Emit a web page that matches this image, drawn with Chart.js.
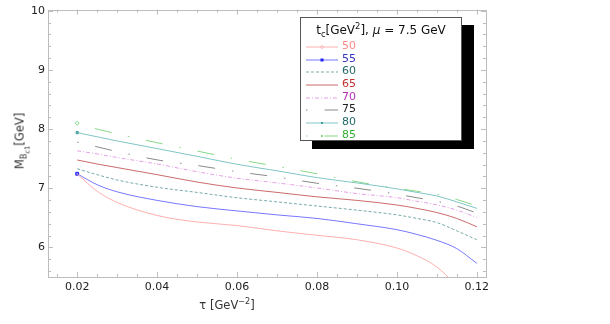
<!DOCTYPE html>
<html>
<head>
<meta charset="utf-8">
<script src="https://cdn.jsdelivr.net/npm/chart.js@4/dist/chart.umd.min.js"></script>
<style>
  body { margin: 0; background: #fff; }
  #wrap { position: relative; width: 610px; height: 324px; font-family: "DejaVu Sans", sans-serif; }
  .lab { position: absolute; white-space: nowrap; color: #333; font-weight: normal; }
  sub, sup { font-size: 70%; line-height: 0; }
  sub sub { font-size: 85%; }
  #legend { position: absolute; left: 300px; top: 17px; width: 162px; height: 124px;
            border: 1px solid #555; background: #fff; box-shadow: 12px 8px 0 0 #000; box-sizing: border-box; }
  #legTitle { position: absolute; left: 0; width: 100%; top: 5px; text-align: center; font-size: 12px; color: #111; }
  .row { position: absolute; left: 5px; height: 12px; font-size: 11px; }
  .row svg { position: absolute; left: 0; top: 2px; }
  .row span { position: absolute; left: 36px; top: -2px; }
</style>
</head>
<body>
<div id="wrap">
  <canvas id="c" width="610" height="324"></canvas>
  <div class="lab" id="ytitle" style="left:20px; top:141px; font-size:11.5px; transform:translate(-50%,-50%) rotate(-90deg);">M<sub>B<sub>c1</sub></sub>[GeV]</div>
  <div class="lab" style="left:227px; top:305px; font-size:11.5px; transform:translate(-50%,-50%);">τ [GeV<sup>−2</sup>]</div>
  <div id="legend"><div id="legTitle">t<sub>c</sub>[GeV<sup>2</sup>], <i>μ</i> = 7.5 GeV</div></div>
</div>
<script>
// tau grid (GeV^-2) and mass curves M_Bc1 (GeV) for each threshold t_c
const tau = [0.02, 0.025, 0.03, 0.04, 0.05, 0.06, 0.07, 0.08, 0.09, 0.10, 0.105, 0.11, 0.115, 0.12];
const tcLabels = ["50", "55", "60", "65", "70", "75", "80", "85"];
const m50 = [7.24, 6.95, 6.76, 6.54, 6.43, 6.37, 6.28, 6.205, 6.13, 5.99, 5.86, 5.67, 5.35, 5.00];
const m55 = [7.245, 7.06, 6.94, 6.795, 6.69, 6.617, 6.55, 6.49, 6.40, 6.30, 6.22, 6.12, 5.98, 5.73];
const m60 = [7.33, 7.23, 7.14, 7.017, 6.93, 6.84, 6.77, 6.70, 6.63, 6.55, 6.49, 6.42, 6.28, 6.13];
const m65 = [7.478, 7.41, 7.35, 7.23, 7.105, 7.005, 6.93, 6.855, 6.795, 6.717, 6.66, 6.59, 6.49, 6.35];
const m70 = [7.633, 7.58, 7.52, 7.41, 7.28, 7.17, 7.09, 7.005, 6.91, 6.84, 6.78, 6.72, 6.63, 6.505];
const m75 = [7.78, 7.70, 7.62, 7.48, 7.385, 7.28, 7.19, 7.085, 7.00, 6.90, 6.84, 6.78, 6.70, 6.58];
const m80 = [7.94, 7.87, 7.80, 7.67, 7.54, 7.405, 7.295, 7.18, 7.09, 6.99, 6.93, 6.87, 6.77, 6.66];
const m85 = [8.10, 8.00, 7.92, 7.77, 7.63, 7.49, 7.37, 7.245, 7.11, 7.00, 6.95, 6.90, 6.81, 6.70];
const xTicks = [0.02, 0.04, 0.06, 0.08, 0.10, 0.12];
const yTicks = [6, 7, 8, 9, 10];

const series = [m50, m55, m60, m65, m70, m75, m80, m85];
const lineColors = ["#ffb0b0", "#7777ff", "#78aaaa", "#cc6b6b", "#e6a0e6", "#8a8a8a", "#80c6c6", "#86d886"];
const textColors = ["#ff8a8a", "#3535c0", "#246868", "#c23030", "#b232b2", "#222222", "#246868", "#32b032"];
const dashes = [[], [], [3, 2], [], [4, 2, 1, 2], [1.5, 17, 17, 17], [], [1.5, 17, 17, 17]];
const markers = [null, "rect", null, null, null, null, "rect", "rectRot"];
const FONT = "DejaVu Sans";

const datasets = series.map((vals, k) => ({
  label: tcLabels[k],
  data: tau.map((t, i) => ({ x: t, y: vals[i] })),
  borderColor: lineColors[k],
  borderWidth: 1,
  borderDash: dashes[k],
  cubicInterpolationMode: "monotone",
  pointStyle: markers[k] || "circle",
  pointRadius: tau.map((t, i) => (i === 0 && markers[k]) ? (k === 6 ? 1.5 : 2) : 0),
  pointBackgroundColor: k === 7 ? "#fff" : lineColors[k],
  pointBorderColor: k === 1 ? "#2222ee" : (k === 6 ? "#3a9a9a" : lineColors[k]),
  pointBorderWidth: 1
}));

// Mathematica-like frame with inward ticks
const framePlugin = {
  id: "frame",
  beforeDatasetsDraw(chart) {
    const { ctx, chartArea: a, scales: { x, y } } = chart;
    ctx.save();
    ctx.strokeStyle = "#bdbdbd";
    ctx.lineWidth = 1;
    ctx.strokeRect(Math.round(a.left) + 0.5, Math.round(a.top) + 0.5, Math.round(a.right - a.left), Math.round(a.bottom - a.top));
    ctx.beginPath();
    for (let i = 3; i <= 24; i++) {
      const px = Math.round(x.getPixelForValue(i * 0.005)) + 0.5;
      const len = i % 4 === 0 ? 5 : 3;
      ctx.moveTo(px, a.bottom); ctx.lineTo(px, a.bottom - len);
      ctx.moveTo(px, a.top); ctx.lineTo(px, a.top + len);
    }
    for (let j = 28; j <= 50; j++) {
      const py = Math.round(y.getPixelForValue(j * 0.2)) + 0.5;
      const len = j % 5 === 0 ? 5 : 3;
      ctx.moveTo(a.left, py); ctx.lineTo(a.left + len, py);
      ctx.moveTo(a.right, py); ctx.lineTo(a.right - len, py);
    }
    ctx.stroke();
    ctx.restore();
  }
};

new Chart(document.getElementById("c"), {
  type: "line",
  data: { datasets },
  options: {
    responsive: false,
    animation: false,
    layout: { padding: { top: 6, right: 124, left: 0, bottom: 0 } },
    plugins: { legend: { display: false }, tooltip: { enabled: false } },
    scales: {
      x: {
        type: "linear", min: 0.0127, max: 0.1223,
        grid: { display: false, drawTicks: false }, border: { display: false },
        afterBuildTicks: s => { s.ticks = xTicks.map(v => ({ value: v })); },
        afterFit: s => { s.height = 47; },
        ticks: { padding: 4, color: "#222", maxRotation: 0, autoSkip: false,
                 font: { family: FONT, size: 11 }, callback: v => Number(v).toFixed(2) }
      },
      y: {
        type: "linear", min: 5.5, max: 10.02,
        grid: { display: false, drawTicks: false }, border: { display: false },
        afterBuildTicks: s => { s.ticks = yTicks.map(v => ({ value: v })); },
        afterFit: s => { s.width = 48; },
        ticks: { padding: 3, color: "#222", font: { family: FONT, size: 11 }, callback: v => String(v) }
      }
    }
  },
  plugins: [framePlugin]
});

// legend rows
const legend = document.getElementById("legend");
tcLabels.forEach((lab, k) => {
  const row = document.createElement("div");
  row.className = "row";
  row.style.top = (23 + k * 12.65) + "px";
  const dash = dashes[k].length ? `stroke-dasharray="${dashes[k].join(" ")}"` : "";
  let mark = "";
  if (k === 0) mark = `<circle cx="16" cy="4" r="1.3" fill="#fff" stroke="${lineColors[0]}"/>`;
  if (k === 1) mark = `<rect x="14.5" y="2.5" width="3" height="3" fill="#2222ee"/>`;
  if (k === 6) mark = `<rect x="15" y="3" width="2" height="2" fill="#3a9a9a"/>`;
  if (k === 7) mark = `<rect x="15" y="3" width="2" height="2" fill="${lineColors[7]}"/>`;
  row.innerHTML = `<svg width="32" height="8"><line x1="0" y1="4" x2="32" y2="4" stroke="${lineColors[k]}" stroke-width="1" ${dash}/>${mark}</svg>` +
    `<span style="color:${textColors[k]}">${lab}</span>`;
  legend.appendChild(row);
});
</script>
</body>
</html>
